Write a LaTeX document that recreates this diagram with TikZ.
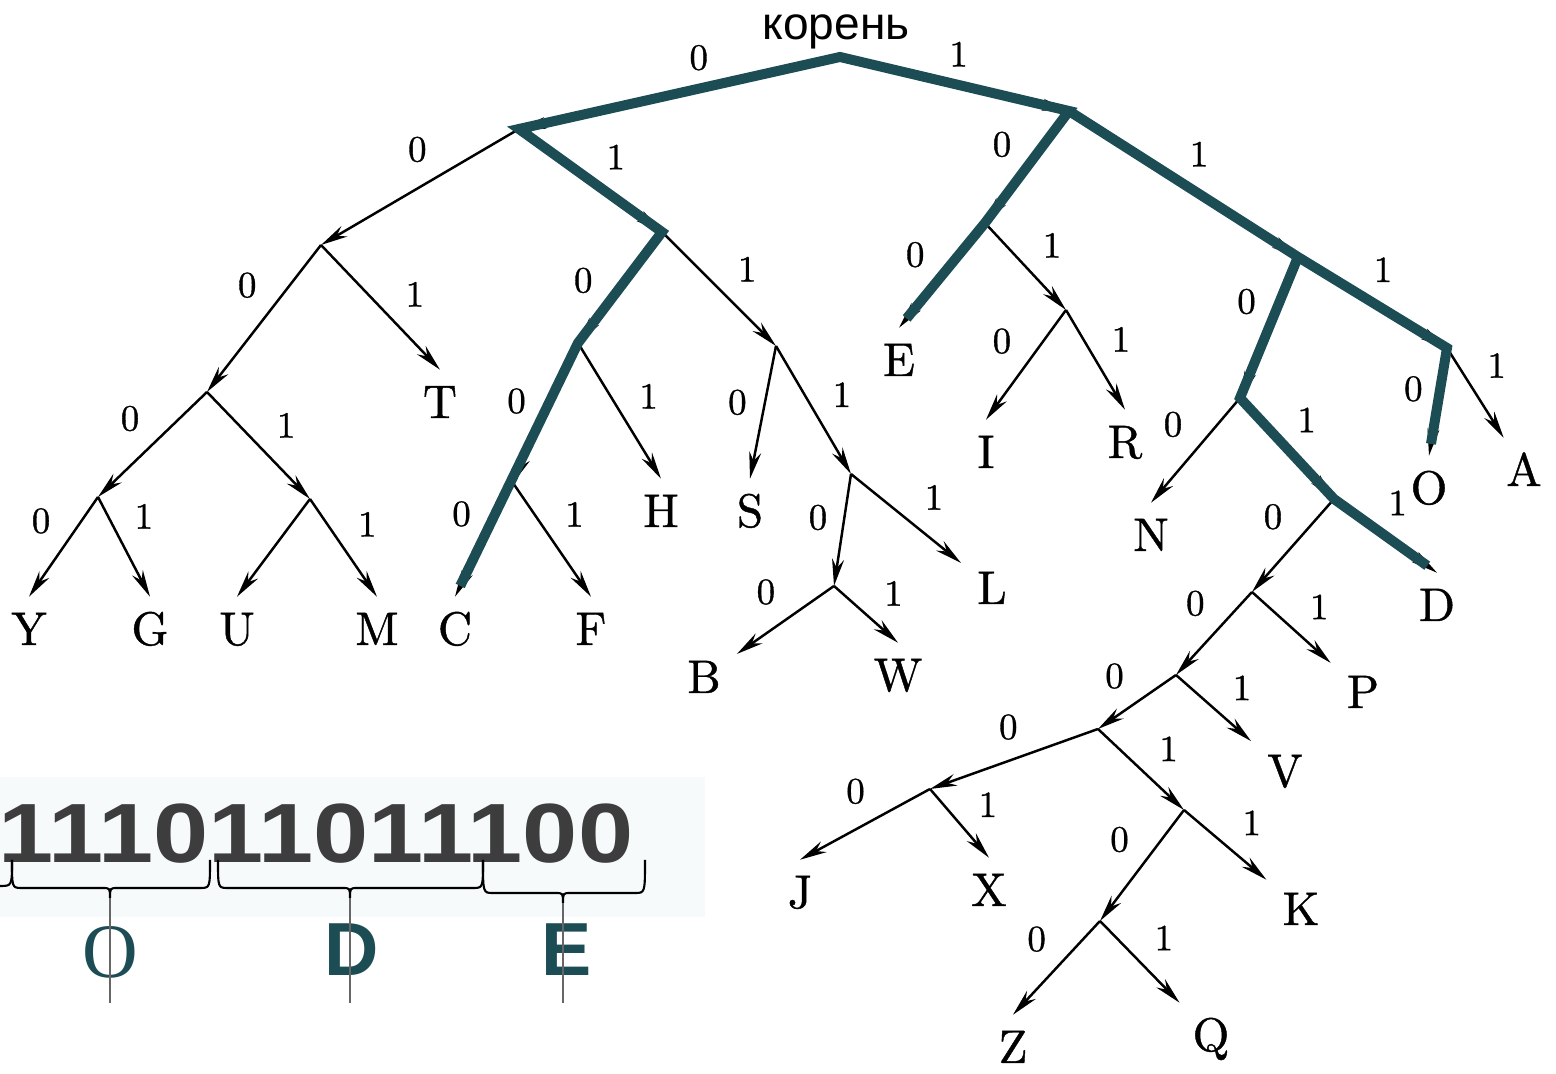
\documentclass[tikz,border=0pt]{standalone}
\usepackage{fontspec}
\setsansfont{Liberation Sans}
\newfontfamily\serifO{Liberation Serif}
\newfontfamily\scanfont{lmroman10-regular}[Extension=.otf,FakeBold=0.9]
\usepackage{graphicx}
\usetikzlibrary{arrows.meta}
\definecolor{pathteal}{RGB}{28,77,84}
\definecolor{codegray}{RGB}{61,61,61}
\definecolor{panelblue}{RGB}{246,250,251}

\begin{document}
\begin{tikzpicture}[x=0.01cm,y=-0.01cm,->,>={Stealth[length=0.27cm,width=0.12cm]},
  auto,line width=0.7pt,
  leaf/.style={inner sep=0.15cm,text height=0.32cm,text depth=0pt,font=\scanfont\fontsize{13.4}{16}\selectfont},
  bit/.style={inner sep=0.12cm,pos=0.5,font=\scanfont\fontsize{10.5}{12}\selectfont},
  route/.style={-,draw=pathteal,line width=0.1cm,line join=miter,shorten >=0.12cm},
  brace/.style={-,line width=0.6pt},
  pointer/.style={-,draw=black!60,line width=0.45pt},
  decoded/.style={text=pathteal,font=\sffamily\bfseries\fontsize{21.4}{24}\selectfont}]
  \useasboundingbox (0,0) rectangle (1556,1074);

  % branching points
  \coordinate (r) at (840,57);
  \coordinate (n0) at (519,129);
  \coordinate (n1) at (1069,111);
  \coordinate (n00) at (321,245);
  \coordinate (n01) at (662,232);
  \coordinate (n000) at (207,392);
  \coordinate (n0000) at (98,497);
  \coordinate (n0001) at (310,499);
  \coordinate (n010) at (578,343);
  \coordinate (n011) at (776,346);
  \coordinate (n0100) at (513,483);
  \coordinate (n0111) at (851,474);
  \coordinate (n01110) at (834,586);
  \coordinate (n10) at (985,223);
  \coordinate (n101) at (1066,310);
  \coordinate (n11) at (1298,257);
  \coordinate (n110) at (1240,398);
  \coordinate (n111) at (1447,348);
  \coordinate (n1101) at (1334,499);
  \coordinate (n11010) at (1252,592);
  \coordinate (n110100) at (1176,675);
  \coordinate (n1101000) at (1098,729);
  \coordinate (n11010000) at (930,789);
  \coordinate (n11010001) at (1184,810);
  \coordinate (n110100010) at (1100,921);

  % letters
  \node[leaf] (Y) at (29,629) {Y};
  \node[leaf] (G) at (150,629) {G};
  \node[leaf] (U) at (237,629) {U};
  \node[leaf] (M) at (377,629) {M};
  \node[leaf] (T) at (440,402) {T};
  \node[leaf] (C) at (455,629) {C};
  \node[leaf] (F) at (591,629) {F};
  \node[leaf] (H) at (661,511) {H};
  \node[leaf] (S) at (750,511) {S};
  \node[leaf] (B) at (704,677) {B};
  \node[leaf] (W) at (898,675) {W};
  \node[leaf] (L) at (992,588) {L};
  \node[leaf] (E) at (899,360) {E};
  \node[leaf] (I) at (986,452) {I};
  \node[leaf] (R) at (1125,442) {R};
  \node[leaf] (N) at (1151,535) {N};
  \node[leaf] (O) at (1429,488) {O};
  \node[leaf] (A) at (1524,470) {A};
  \node[leaf] (D) at (1437,605) {D};
  \node[leaf] (P) at (1363,692) {P};
  \node[leaf] (V) at (1285,771) {V};
  \node[leaf] (J) at (800,892) {J};
  \node[leaf] (X) at (989,890) {X};
  \node[leaf] (K) at (1301,909) {K};
  \node[leaf] (Z) at (1013,1047) {Z};
  \node[leaf] (Q) at (1211,1035) {Q};

  \node[anchor=base,font=\sffamily\fontsize{13.1}{15}\selectfont] (rootname) at (836,40) {корень};

  \path[every node/.style={bit}]
    (r) edge node[swap,pos=.37]{0} (n0)
        edge node[pos=.42]{1} (n1)
    (n0) edge node[swap,pos=.4]{0} (n00)
         edge node[pos=.52]{1} (n01)
    (n00) edge node[swap,pos=.45]{0} (n000)
          edge node[pos=.6]{1} (T.north)
    (n000) edge node[swap]{0} (n0000)
           edge node[pos=.55]{1} (n0001)
    (n0000) edge node[swap]{0} (Y.north)
            edge node[pos=.45]{1} (G.north)
    (n0001) edge (U.north)
            edge node[pos=.52]{1} (M.north)
    (n01) edge node[swap,pos=.67]{0} (n010)
          edge node[pos=.55]{1} (n011)
    (n010) edge node[swap,pos=.6]{0} (n0100)
           edge node[pos=.58]{1} (H.north)
    (n0100) edge node[swap]{0} (C.north)
            edge node{1} (F.north)
    (n011) edge node[swap,pos=.62]{0} (S.north)
           edge node[pos=.58]{1} (n0111)
    (n0111) edge node[swap,pos=.62]{0} (n01110)
            edge node[pos=.55]{1} (L)
    (n01110) edge node[swap,pos=.47]{0} (B)
             edge node[pos=.58]{1} (W.north)
    (n1) edge node[swap,pos=.53]{0} (n10)
         edge node[pos=.47]{1} (n11)
    (n10) edge node[swap,pos=.55]{0} (E.north)
          edge node[pos=.55]{1} (n101)
    (n101) edge node[swap,pos=.52]{0} (I.north)
           edge node[pos=.55]{1} (R.north)
    (n11) edge node[swap]{0} (n110)
          edge node[pos=.42]{1} (n111)
    (n111) edge node[swap,pos=.62]{0} (O.north)
           edge node[pos=.48]{1} (A)
    (n110) edge node[swap]{0} (N.north)
           edge node[pos=.47]{1} (n1101)
    (n1101) edge node[swap,pos=.47]{0} (n11010)
            edge node[pos=.4]{1} (D.north)
    (n11010) edge node[swap,pos=.45]{0} (n110100)
             edge node[pos=.57]{1} (P)
    (n110100) edge node[swap,pos=.5]{0} (n1101000)
              edge node[pos=.58]{1} (V)
    (n1101000) edge node[swap,pos=.4]{0} (n11010000)
               edge node[pos=.56]{1} (n11010001)
    (n11010000) edge node[swap,pos=.4]{0} (J.north)
                edge node[pos=.6]{1} (X.north)
    (n11010001) edge node[swap]{0} (n110100010)
                edge node[pos=.55]{1} (K)
    (n110100010) edge node[swap,pos=.47]{0} (Z.north)
                 edge node[pos=.52]{1} (Q);

  % decoded paths
  \draw[route,shorten <=0.12cm] (C.north) -- (n010) -- (n01) -- (n0) -- (r) -- (n1) -- (n10) -- (E.north);
  \draw[route] (n1) -- (n11) -- (n111) -- (O.north);
  \draw[route] (n11) -- (n110) -- (n1101) -- (D.north);

  % code panel
  \fill[-,panelblue] (0,777) rectangle (705,917);
  \node[anchor=base,text=codegray,font=\sffamily\bfseries\fontsize{23.9}{28}\selectfont] (code) at (316,863) {\scalebox{1.18}[1]{111011011100}};
  \draw[brace] (0,886) .. controls (12,886) .. (12,860);
  \foreach \a/\m/\b/\y in {12/110/210/888,218/350/483/888,483/563/645/893}
    \draw[brace] (\a,860) .. controls (\a,\y) .. (\a+10,\y) -- (\m-8,\y) .. controls (\m,\y) .. (\m,\y+10)
      .. controls (\m,\y) .. (\m+8,\y) -- (\b-10,\y) .. controls (\b,\y) .. (\b,860);

  \node[text=pathteal,font=\serifO\fontsize{21.9}{24}\selectfont] (decO) at (110,952) {O};
  \node[decoded] (decD) at (352,950) {D};
  \node[decoded] (decE) at (567,950) {E};

  \coordinate (tipO) at (110,898);
  \coordinate (tipD) at (350,898);
  \coordinate (tipE) at (563,903);
  \coordinate (endO) at (110,1003);
  \coordinate (endD) at (350,1003);
  \coordinate (endE) at (563,1003);
  \draw[pointer] (tipO) -- (endO);
  \draw[pointer] (tipD) -- (endD);
  \draw[pointer] (tipE) -- (endE);
\end{tikzpicture}
\end{document}
